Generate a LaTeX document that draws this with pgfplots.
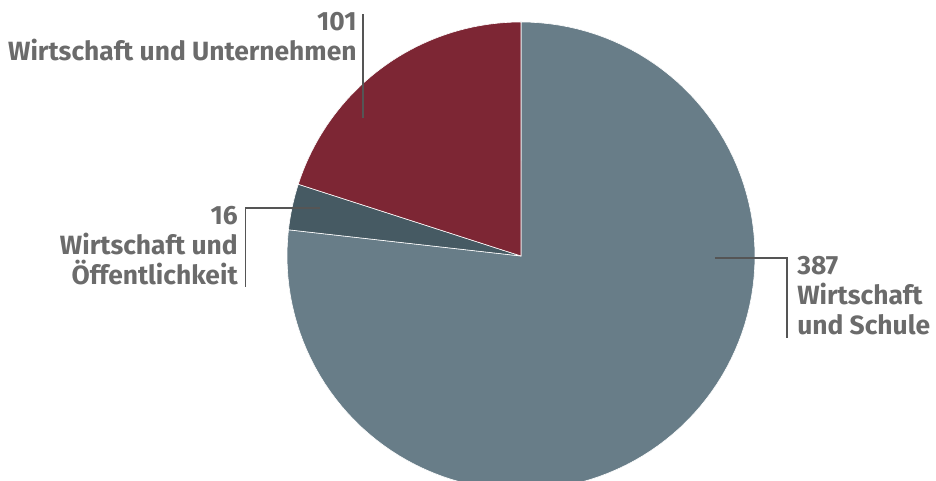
\documentclass[border=0pt]{standalone}
\usepackage{pgfplots}
\usepackage{pgfplotstable}
\pgfplotsset{compat=1.18}
\usepackage{fontspec}
\setmainfont{Fira Sans}

\definecolor{schule}{HTML}{687D88}
\definecolor{oeff}{HTML}{465A63}
\definecolor{untern}{HTML}{7D2634}
\definecolor{txt}{HTML}{6B6B6B}
\definecolor{lead}{HTML}{555555}

\pgfplotstableread{
value
387
16
101
}\piedata

\begin{document}
\begin{tikzpicture}
  % slice angles from the data, clockwise from the top
  \pgfplotstablegetelem{0}{value}\of\piedata \let\va\pgfplotsretval
  \pgfplotstablegetelem{1}{value}\of\piedata \let\vb\pgfplotsretval
  \pgfplotstablegetelem{2}{value}\of\piedata \let\vc\pgfplotsretval
  \pgfmathsetmacro\total{\va+\vb+\vc}
  \pgfmathsetmacro\aA{90}
  \pgfmathsetmacro\aB{\aA-360*(\va/\total)}
  \pgfmathsetmacro\aC{\aB-360*(\vb/\total)}
  \pgfmathsetmacro\aD{\aC-360*(\vc/\total)}
  \begin{axis}[
      width=468pt, height=240.5pt, scale only axis,
      hide axis,
      xmin=-2.2265, xmax=1.7735,
      ymin=-0.9615, ymax=1.094,
    ]
    \fill[schule, draw=white, line width=0.3pt] (0,0) -- plot[domain=\aA:\aB, samples=120] ({cos(\x)},{sin(\x)}) -- cycle;
    \fill[oeff, draw=white, line width=0.3pt] (0,0) -- plot[domain=\aB:\aC, samples=20] ({cos(\x)},{sin(\x)}) -- cycle;
    \fill[untern, draw=white, line width=0.3pt] (0,0) -- plot[domain=\aC:\aD, samples=60] ({cos(\x)},{sin(\x)}) -- cycle;

    \draw[lead, line width=0.6pt] (-0.675,1.034) -- (-0.675,0.590);
    \draw[lead, line width=0.6pt] (-0.859,0.205) -- (-1.179,0.205) -- (-1.179,-0.132);
    \draw[lead, line width=0.6pt] (0.829,-0.0085) -- (1.137,-0.0085) -- (1.137,-0.350);

    \node[anchor=north east, align=right, inner sep=0pt, text=txt, font=\bfseries\fontsize{13.2}{15}\selectfont]
      at (-0.701,1.045) {101\\Wirtschaft und Unternehmen};
    \node[anchor=north east, align=right, inner sep=0pt, text=txt, font=\bfseries\fontsize{13.2}{15}\selectfont]
      at (-1.209,0.215) {16\\Wirtschaft und\\Öffentlichkeit};
    \node[anchor=north west, align=left, inner sep=0pt, text=txt, font=\bfseries\fontsize{13.2}{15}\selectfont]
      at (1.179,0.0) {387\\Wirtschaft\\und Schule};
  \end{axis}
  \pgfresetboundingbox
  \useasboundingbox (current axis.south west) rectangle (current axis.north east);
\end{tikzpicture}
\end{document}
